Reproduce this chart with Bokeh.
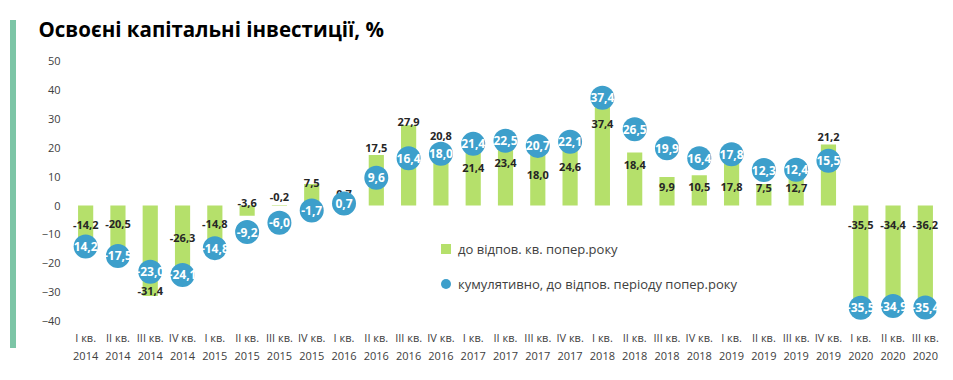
from bokeh.plotting import figure
from bokeh.layouts import row
from bokeh.models import ColumnDataSource, Legend, LegendItem, FixedTicker, Div
from bokeh.core.properties import value
from bokeh.embed import file_html
from bokeh.resources import INLINE

quarters = ["I кв.", "II кв.", "III кв.", "IV кв."] * 6 + ["I кв.", "II кв.", "III кв."]
years = ["2014"] * 4 + ["2015"] * 4 + ["2016"] * 4 + ["2017"] * 4 + ["2018"] * 4 + ["2019"] * 4 + ["2020"] * 3
yoy = [-14.2, -20.5, -31.4, -26.3, -14.8, -3.6, -0.2, 7.5, 0.7, 17.5, 27.9, 20.8, 21.4, 23.4,
       18.0, 24.6, 37.4, 18.4, 9.9, 10.5, 17.8, 7.5, 12.7, 21.2, -35.5, -34.4, -36.2]
cumulative = [-14.2, -17.5, -23.0, -24.1, -14.8, -9.2, -6.0, -1.7, 0.7, 9.6, 16.4, 18.0, 21.4, 22.5,
              20.7, 22.1, 37.4, 26.5, 19.9, 16.4, 17.8, 12.3, 12.4, 15.5, -35.5, -34.9, -35.4]
cum_labels = ["14,2"] + [f"{v:.1f}".replace(".", ",") for v in cumulative[1:]]
series_names = ["до відпов. кв. попер.року", "кумулятивно, до відпов. періоду попер.року"]
title_text = "Освоєні капітальні інвестиції, %"

# label pixel offsets (style: manual placement as in the original)
bar_label_dy = [-21, -41, -5, -43, -24, -13, -9, -1, -9, -7, -3, -10, 24, 25, 21, 32, 26, 12,
                10, 12, 33, 4, 19, -7, -83, -80, -85]

GREEN = "#B5E06B"
BLUE = "#3D9FCB"
ACCENT = "#7CC5A6"
FONT = "Open Sans"

xs = list(range(len(yoy)))
src = ColumnDataSource(dict(
    x=xs, yoy=yoy, cum=cumulative,
    yoy_label=[f"{v:.1f}".replace(".", ",") for v in yoy],
    cum_label=cum_labels,
    dy=bar_label_dy,
))

STRIP_W = 16
FL, FR, FT, FB = 69 - STRIP_W, 12, 47, 54  # frame borders in px
p = figure(width=953 - STRIP_W, height=380, x_range=(-0.5, len(xs) - 0.5), y_range=(-42.01, 54.86),
           output_backend="svg", toolbar_location=None,
           min_border_left=FL, min_border_right=FR, min_border_top=FT, min_border_bottom=FB)
p.outline_line_color = None
p.xgrid.visible = False
p.ygrid.visible = False
p.background_fill_color = "white"
p.border_fill_color = "white"

# title
p.title.text = title_text
p.title.align = "left"
p.title.offset = 38 - 69
p.title.standoff = 9
p.title.text_font = FONT
p.title.text_font_size = "20.5px"
p.title.text_font_style = "bold"
p.title.text_color = "black"

bars = p.vbar(x="x", top="yoy", bottom=0, width=0.47, source=src, fill_color=GREEN, line_color=None)
p.text(x="x", y="yoy", text="yoy_label", source=src, y_offset="dy",
       text_align="center", text_baseline="middle", text_font=value(FONT),
       text_font_size="11px", text_font_style="bold", text_color="#262626")
circ = p.scatter(x="x", y="cum", size=24, source=src, fill_color=BLUE, line_color=None)
p.text(x="x", y="cum", text="cum_label", source=src,
       text_align="center", text_baseline="middle", text_font=value(FONT),
       text_font_size="12px", text_font_style="bold", text_color="white")

sq = p.scatter(x=[float("nan")], y=[float("nan")], marker="square", size=10,
               fill_color=GREEN, line_color=None)

legend = Legend(items=[LegendItem(label=series_names[0], renderers=[sq]),
                       LegendItem(label=series_names[1], renderers=[circ])],
                location=(364, 30), orientation="vertical",
                glyph_width=25, glyph_height=25, spacing=10, padding=0, margin=0,
                label_standoff=0, label_text_font=FONT, label_text_font_size="13px",
                label_text_color="#404040", background_fill_alpha=0, border_line_alpha=0)
p.add_layout(legend)

# axes
p.xaxis.ticker = FixedTicker(ticks=xs)
p.xaxis.major_label_overrides = {i: f"{q}\n{y}" for i, (q, y) in enumerate(zip(quarters, years))}
p.xaxis.axis_line_color = None
p.xaxis.major_tick_line_color = None
p.xaxis.minor_tick_line_color = None
p.xaxis.major_tick_out = 0
p.xaxis.minor_tick_out = 0
p.xaxis.major_label_standoff = 3
p.xaxis.major_label_text_font = FONT
p.xaxis.major_label_text_font_size = "11px"
p.xaxis.major_label_text_color = "#404040"

p.yaxis.ticker = FixedTicker(ticks=list(range(-40, 51, 10)))
p.yaxis.axis_line_color = None
p.yaxis.major_tick_line_color = None
p.yaxis.minor_tick_line_color = None
p.yaxis.major_tick_out = 0
p.yaxis.minor_tick_out = 0
p.yaxis.major_label_standoff = 9
p.yaxis.major_label_text_font = FONT
p.yaxis.major_label_text_font_size = "11px"
p.yaxis.major_label_text_color = "#404040"

# decorative accent strip at the left edge
strip = Div(text="", width=6, height=328, margin=(20, 0, 0, 10),
            styles={"background-color": ACCENT})

layout = row(strip, p, spacing=0)
open("out.html", "w").write(file_html(layout, INLINE))
